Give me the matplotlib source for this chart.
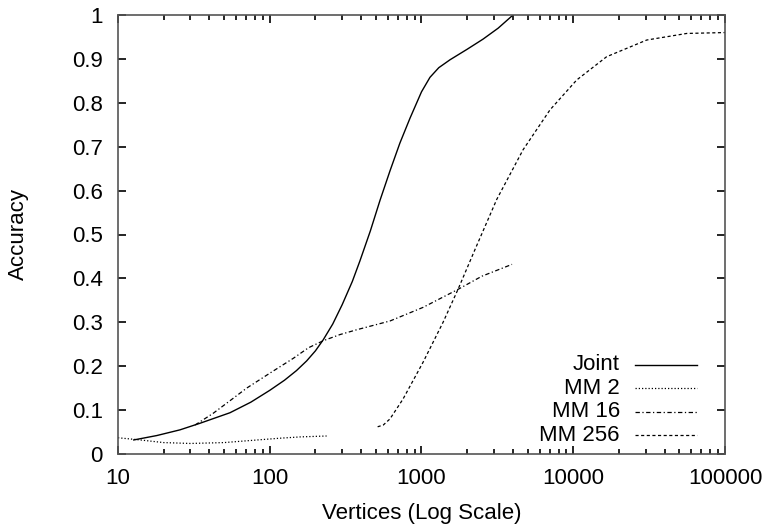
import matplotlib
matplotlib.use("Agg")
import matplotlib.pyplot as plt
from matplotlib.ticker import FixedLocator, LogLocator, NullFormatter, FuncFormatter

plt.rcParams['font.family'] = ['Liberation Sans', 'DejaVu Sans']

# Data
joint_x = [12.7, 18, 25.6, 34.7, 54.7, 75, 100, 125, 150, 175, 200, 225, 260, 300, 350, 393, 460, 533, 620, 720, 840, 1000, 1137, 1300, 1541, 2000, 2543, 3200, 4010]
joint_y = [0.032, 0.042, 0.055, 0.070, 0.094, 0.118, 0.145, 0.168, 0.19, 0.212, 0.235, 0.26, 0.296, 0.34, 0.393, 0.44, 0.508, 0.578, 0.645, 0.708, 0.765, 0.825, 0.858, 0.88, 0.898, 0.922, 0.945, 0.97, 1.0]

mm2_x = [10, 14, 20, 30, 50, 70, 117, 160, 237]
mm2_y = [0.037, 0.032, 0.026, 0.024, 0.026, 0.030, 0.036, 0.039, 0.041]

mm16_x = [32.2, 42.5, 55, 70.4, 100, 143, 180, 225, 290, 374, 620, 1024, 1740, 2500, 3950]
mm16_y = [0.066, 0.093, 0.122, 0.15, 0.184, 0.218, 0.242, 0.258, 0.272, 0.283, 0.303, 0.334, 0.375, 0.405, 0.432]

mm256_x = [514, 560, 620, 755, 1024, 1387, 1740, 2253, 3133, 4670, 7030, 10540, 16600, 30500, 56000, 100000]
mm256_y = [0.062, 0.066, 0.08, 0.125, 0.209, 0.30, 0.375, 0.466, 0.58, 0.693, 0.784, 0.852, 0.905, 0.943, 0.958, 0.96]

labels = ["Joint", "MM 2", "MM 16", "MM 256"]
yticks = [0, 0.1, 0.2, 0.3, 0.4, 0.5, 0.6, 0.7, 0.8, 0.9, 1.0]
xticks = [10, 100, 1000, 10000, 100000]

FS = 16

fig = plt.figure(figsize=(7.7, 5.27), dpi=100)
ax = fig.add_axes([118/770, (527-454)/527, (725-118)/770, (454-15)/527])

styles = [
    dict(color='black', lw=1.0, linestyle='-'),
    dict(color='black', lw=0.9, linestyle=(0, (1, 1.6))),
    dict(color='black', lw=0.9, linestyle=(0, (3.5, 2, 1, 2))),
    dict(color='black', lw=0.9, linestyle=(0, (2.5, 2))),
]
series = [(joint_x, joint_y), (mm2_x, mm2_y), (mm16_x, mm16_y), (mm256_x, mm256_y)]
for (xs, ys), st in zip(series, styles):
    ax.plot(xs, ys, **st)

ax.set_xscale('log')
ax.set_xlim(10, 100000)
ax.set_ylim(0, 1)
ax.xaxis.set_major_locator(FixedLocator(xticks))
ax.xaxis.set_major_formatter(FuncFormatter(lambda v, p: f"{int(round(v))}"))
ax.xaxis.set_minor_locator(LogLocator(base=10, subs=range(2, 10), numticks=20))
ax.xaxis.set_minor_formatter(NullFormatter())
ax.yaxis.set_major_locator(FixedLocator(yticks))
ax.yaxis.set_major_formatter(FuncFormatter(lambda v, p: f"{v:g}"))

ax.tick_params(which='both', direction='in', top=True, right=True, color='black', width=1.2)
ax.tick_params(which='major', length=6, labelsize=FS)
ax.tick_params(which='minor', length=3.5)
ax.tick_params(axis='y', pad=11)
ax.tick_params(axis='x', pad=10)
for s in ax.spines.values():
    s.set_color('#555555')
    s.set_linewidth(1.2)

ax.set_xlabel("Vertices (Log Scale)", fontsize=FS)
ax.xaxis.label.set_va('baseline')
ax.xaxis.set_label_coords(0.5, (454 - 519) / 439)
ax.set_ylabel("Accuracy", fontsize=FS)
ax.yaxis.label.set_va('center')
ax.yaxis.set_label_coords((18 - 118) / 607, 0.5)

# Legend (gnuplot style: right-aligned text, sample line on the right)
row_y = [0.203, 0.150, 0.096, 0.043]
for lab, st, yy in zip(labels, styles, row_y):
    ax.text(0.827, yy, lab, transform=ax.transAxes, ha='right', va='center', fontsize=FS)
    ax.plot([0.852, 0.954], [yy, yy], transform=ax.transAxes, **st)

fig.savefig("out.png", dpi=100)
